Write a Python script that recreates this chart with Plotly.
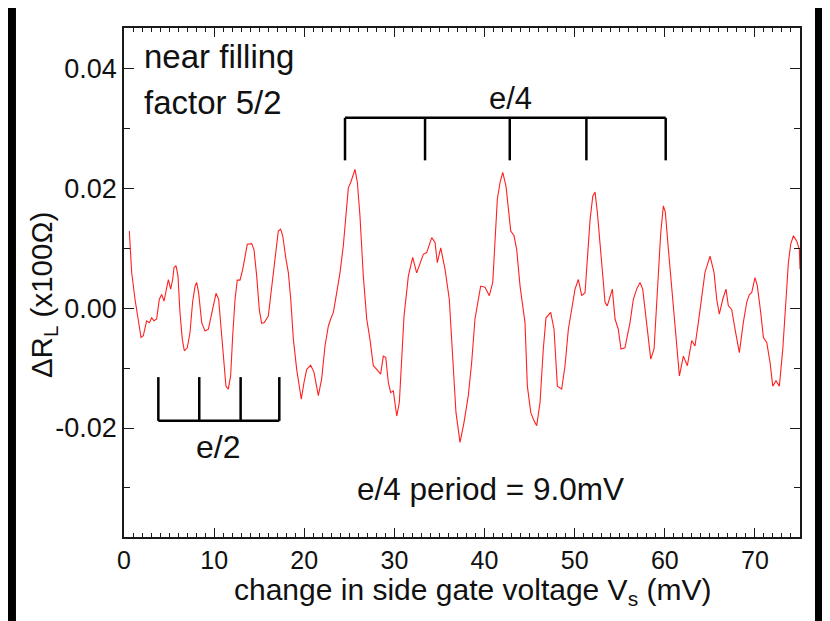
import plotly.graph_objects as go

# ---- data ----
vs_mV = [0.59, 0.85, 1.22, 1.48, 1.89, 2.14, 2.51, 2.81, 3.07, 3.33, 3.62, 3.92, 4.18, 4.44, 4.73, 4.92,
         5.18, 5.40, 5.55, 5.77, 5.99, 6.21, 6.47, 6.69, 7.02, 7.32, 7.61, 7.88, 8.06, 8.28, 8.62, 8.99,
         9.36, 9.80, 10.21, 10.50, 10.80, 11.09, 11.31, 11.57, 11.83, 12.06, 12.32, 12.57, 12.87, 13.17,
         13.43, 13.68, 14.17, 14.42, 14.72, 15.01, 15.27, 15.57, 16.01, 16.28, 16.57, 16.86, 17.12, 17.38,
         17.61, 17.97, 18.23, 18.50, 18.79, 19.16, 19.42, 19.67, 19.97, 20.27, 20.71, 21.08, 21.56, 21.93,
         22.30, 22.67, 22.93, 23.23, 23.60, 23.97, 24.33, 24.63, 24.89, 25.15, 25.37, 25.63, 25.89, 26.18,
         26.55, 26.93, 27.29, 27.66, 28.04, 28.47, 28.77, 29.04, 29.33, 29.59, 29.88, 30.26, 30.55, 30.81,
         31.07, 31.55, 32.03, 32.47, 33.21, 33.58, 34.14, 34.51, 34.76, 35.14, 35.62, 36.09, 36.46, 36.83,
         37.28, 37.72, 38.20, 38.57, 38.94, 39.20, 39.57, 40.05, 40.53, 40.91, 41.16, 41.42, 41.72, 42.02,
         42.38, 42.64, 42.91, 43.27, 43.57, 43.94, 44.49, 44.75, 45.13, 45.49, 45.79, 46.16, 46.52, 46.82,
         47.34, 47.71, 48.08, 48.56, 48.93, 49.30, 49.67, 50.04, 50.41, 50.78, 51.15, 51.41, 51.71, 52.01,
         52.26, 52.52, 53.00, 53.37, 53.62, 53.92, 54.18, 54.48, 54.84, 55.14, 55.58, 56.14, 56.51, 56.88,
         57.25, 57.55, 57.99, 58.44, 58.81, 59.17, 59.55, 59.84, 60.06, 60.40, 60.88, 61.25, 61.62, 62.06,
         62.50, 62.99, 63.35, 63.72, 64.10, 64.46, 65.02, 65.46, 65.76, 66.05, 66.43, 66.79, 67.05, 67.42,
         67.79, 68.27, 68.71, 69.09, 69.38, 69.64, 70.01, 70.27, 70.64, 70.94, 71.31, 71.68, 71.98, 72.34,
         72.71, 73.09, 73.45, 73.71, 73.97, 74.27, 74.64, 74.93, 75.00]

delta_RL = [0.0129, 0.0060, 0.0015, -0.0013, -0.0049, -0.0046, -0.0021, -0.0024, -0.0016, -0.0021, -0.0018,
            0.0015, 0.0023, 0.0012, 0.0037, 0.0048, 0.0032, 0.0048, 0.0068, 0.0071, 0.0054, -0.0007, -0.0052,
            -0.0071, -0.0066, -0.0041, 0.0010, 0.0037, 0.0043, 0.0026, -0.0024, -0.0038, -0.0035, -0.0002,
            0.0025, 0.0015, -0.0035, -0.0091, -0.0130, -0.0135, -0.0113, -0.0046, 0.0015, 0.0047, 0.0047,
            0.0065, 0.0087, 0.0107, 0.0108, 0.0098, 0.0054, -0.0002, -0.0025, -0.0024, -0.0013, 0.0021,
            0.0054, 0.0087, 0.0129, 0.0132, 0.0121, 0.0082, 0.0060, 0.0015, -0.0052, -0.0102, -0.0124,
            -0.0152, -0.0124, -0.0102, -0.0095, -0.0107, -0.0146, -0.0118, -0.0063, -0.0030, -0.0018,
            -0.0007, 0.0026, 0.0060, 0.0104, 0.0160, 0.0201, 0.0210, 0.0221, 0.0232, 0.0210, 0.0154,
            0.0054, -0.0018, -0.0052, -0.0096, -0.0102, -0.0110, -0.0080, -0.0082, -0.0124, -0.0141,
            -0.0138, -0.0180, -0.0157, -0.0080, -0.0013, 0.0054, 0.0085, 0.0059, 0.0090, 0.0093, 0.0118,
            0.0110, 0.0076, 0.0101, 0.0065, 0.0015, -0.0080, -0.0174, -0.0224, -0.0191, -0.0146, -0.0091,
            -0.0018, 0.0004, 0.0037, 0.0035, 0.0021, 0.0043, 0.0121, 0.0182, 0.0210, 0.0227, 0.0204,
            0.0165, 0.0129, 0.0121, 0.0098, 0.0037, -0.0024, -0.0130, -0.0174, -0.0188, -0.0196, -0.0157,
            -0.0068, -0.0016, -0.0007, -0.0035, -0.0130, -0.0135, -0.0096, -0.0035, -0.0002, 0.0032,
            0.0048, 0.0021, 0.0026, 0.0076, 0.0148, 0.0187, 0.0194, 0.0160, 0.0076, 0.0010, 0.0004,
            0.0021, 0.0032, -0.0018, -0.0035, -0.0068, -0.0066, -0.0024, 0.0015, 0.0032, 0.0043, 0.0032,
            -0.0024, -0.0085, -0.0068, 0.0026, 0.0126, 0.0171, 0.0160, 0.0098, 0.0015, -0.0057, -0.0113,
            -0.0080, -0.0096, -0.0054, -0.0063, -0.0024, 0.0021, 0.0060, 0.0087, 0.0060, 0.0015, -0.0010,
            0.0015, 0.0032, 0.0004, -0.0002, -0.0035, -0.0074, -0.0024, 0.0010, 0.0023, 0.0026, 0.0051,
            0.0037, -0.0007, -0.0049, -0.0057, -0.0091, -0.0130, -0.0121, -0.0130, -0.0068, 0.0015,
            0.0076, 0.0107, 0.0121, 0.0112, 0.0098, 0.0065]

# bracket marks (mV) and their vertical extents
e4_marks = [24.52, 33.40, 42.80, 51.30, 60.10]
e4_top, e4_bottom = 0.0318, 0.0247
e2_marks = [3.81, 8.35, 12.94, 17.23]
e2_top, e2_bottom = -0.0115, -0.0188

x_tickvals = [0, 10, 20, 30, 40, 50, 60, 70]
y_tickvals = [-0.02, 0.0, 0.02, 0.04]
y_ticktext = ["-0.02", "0.00", "0.02", "0.04"]

FONT = "Liberation Sans, Arial, Helvetica, sans-serif"
INK = "#1a1a1a"


def bracket(marks, top, bottom, base_at_top):
    xs, ys = [], []
    base = top if base_at_top else bottom
    xs += [marks[0], marks[-1], None]
    ys += [base, base, None]
    for m in marks:
        xs += [m, m, None]
        ys += [top, bottom, None]
    return xs, ys


fig = go.Figure()
fig.add_trace(go.Scatter(x=vs_mV, y=delta_RL, mode="lines",
                         line=dict(color="#ff2020", width=1.1), showlegend=False))

bx, by = bracket(e4_marks, e4_top, e4_bottom, True)
fig.add_trace(go.Scatter(x=bx, y=by, mode="lines", line=dict(color="black", width=2.5),
                         showlegend=False))
bx, by = bracket(e2_marks, e2_top, e2_bottom, False)
fig.add_trace(go.Scatter(x=bx, y=by, mode="lines", line=dict(color="black", width=2.5),
                         showlegend=False))

axis_common = dict(showline=True, linecolor=INK, linewidth=1.5, mirror="allticks",
                   ticks="inside", tickcolor=INK, tickwidth=1.3, showgrid=False,
                   zeroline=False)

fig.update_xaxes(range=[0, 75], tickvals=x_tickvals, ticklen=9,
                 tickfont=dict(family=FONT, size=25, color="#111"),
                 minor=dict(dtick=1, tick0=0, ticks="inside", ticklen=4, tickcolor=INK, tickwidth=1),
                 **axis_common)
fig.update_yaxes(range=[-0.0382, 0.0468], tickvals=y_tickvals, ticktext=y_ticktext, ticklen=10,
                 tickfont=dict(family=FONT, size=27, color="#111"),
                 minor=dict(dtick=0.01, tick0=0, ticks="inside", ticklen=6, tickcolor=INK, tickwidth=1),
                 **axis_common)

annotations = [
    dict(x=2.0, y=0.0420, text="near filling", xanchor="left", yanchor="middle", size=33),
    dict(x=2.0, y=0.0343, text="factor 5/2", xanchor="left", yanchor="middle", size=33),
    dict(x=42.9, y=0.0350, text="e/4", xanchor="center", yanchor="middle", size=31),
    dict(x=10.4, y=-0.0232, text="e/2", xanchor="center", yanchor="middle", size=32),
    dict(x=40.7, y=-0.0302, text="e/4 period = 9.0mV", xanchor="center", yanchor="middle", size=31.5),
]
for a in annotations:
    size = a.pop("size")
    fig.add_annotation(xref="x", yref="y", showarrow=False,
                       font=dict(family=FONT, size=size, color="#111"), **a)

fig.add_annotation(xref="paper", yref="paper", x=0.516, y=-0.108, showarrow=False,
                   text="change in side gate voltage V<sub>s</sub> (mV)",
                   font=dict(family=FONT, size=30, color="#111"),
                   xanchor="center", yanchor="middle")
fig.add_annotation(xref="paper", yref="paper", x=-0.12, y=0.475, showarrow=False,
                   text="ΔR<sub>L</sub> (x100Ω)", font=dict(family=FONT, size=29.5, color="#111"),
                   textangle=-90, xanchor="center", yanchor="middle")

# white page inside the black frame
fig.add_shape(type="rect", xref="paper", yref="paper", x0=-0.1598, x1=1.0222, y0=-0.25, y1=1.05,
              fillcolor="white", line=dict(width=0), layer="below")

# the page body adds an 8px offset; margins compensate so the plot frame lands in place
fig.update_layout(width=830, height=621, margin=dict(l=116, r=38, t=20, b=92),
                  paper_bgcolor="black", plot_bgcolor="white", showlegend=False)

fig.write_html("out.html")
